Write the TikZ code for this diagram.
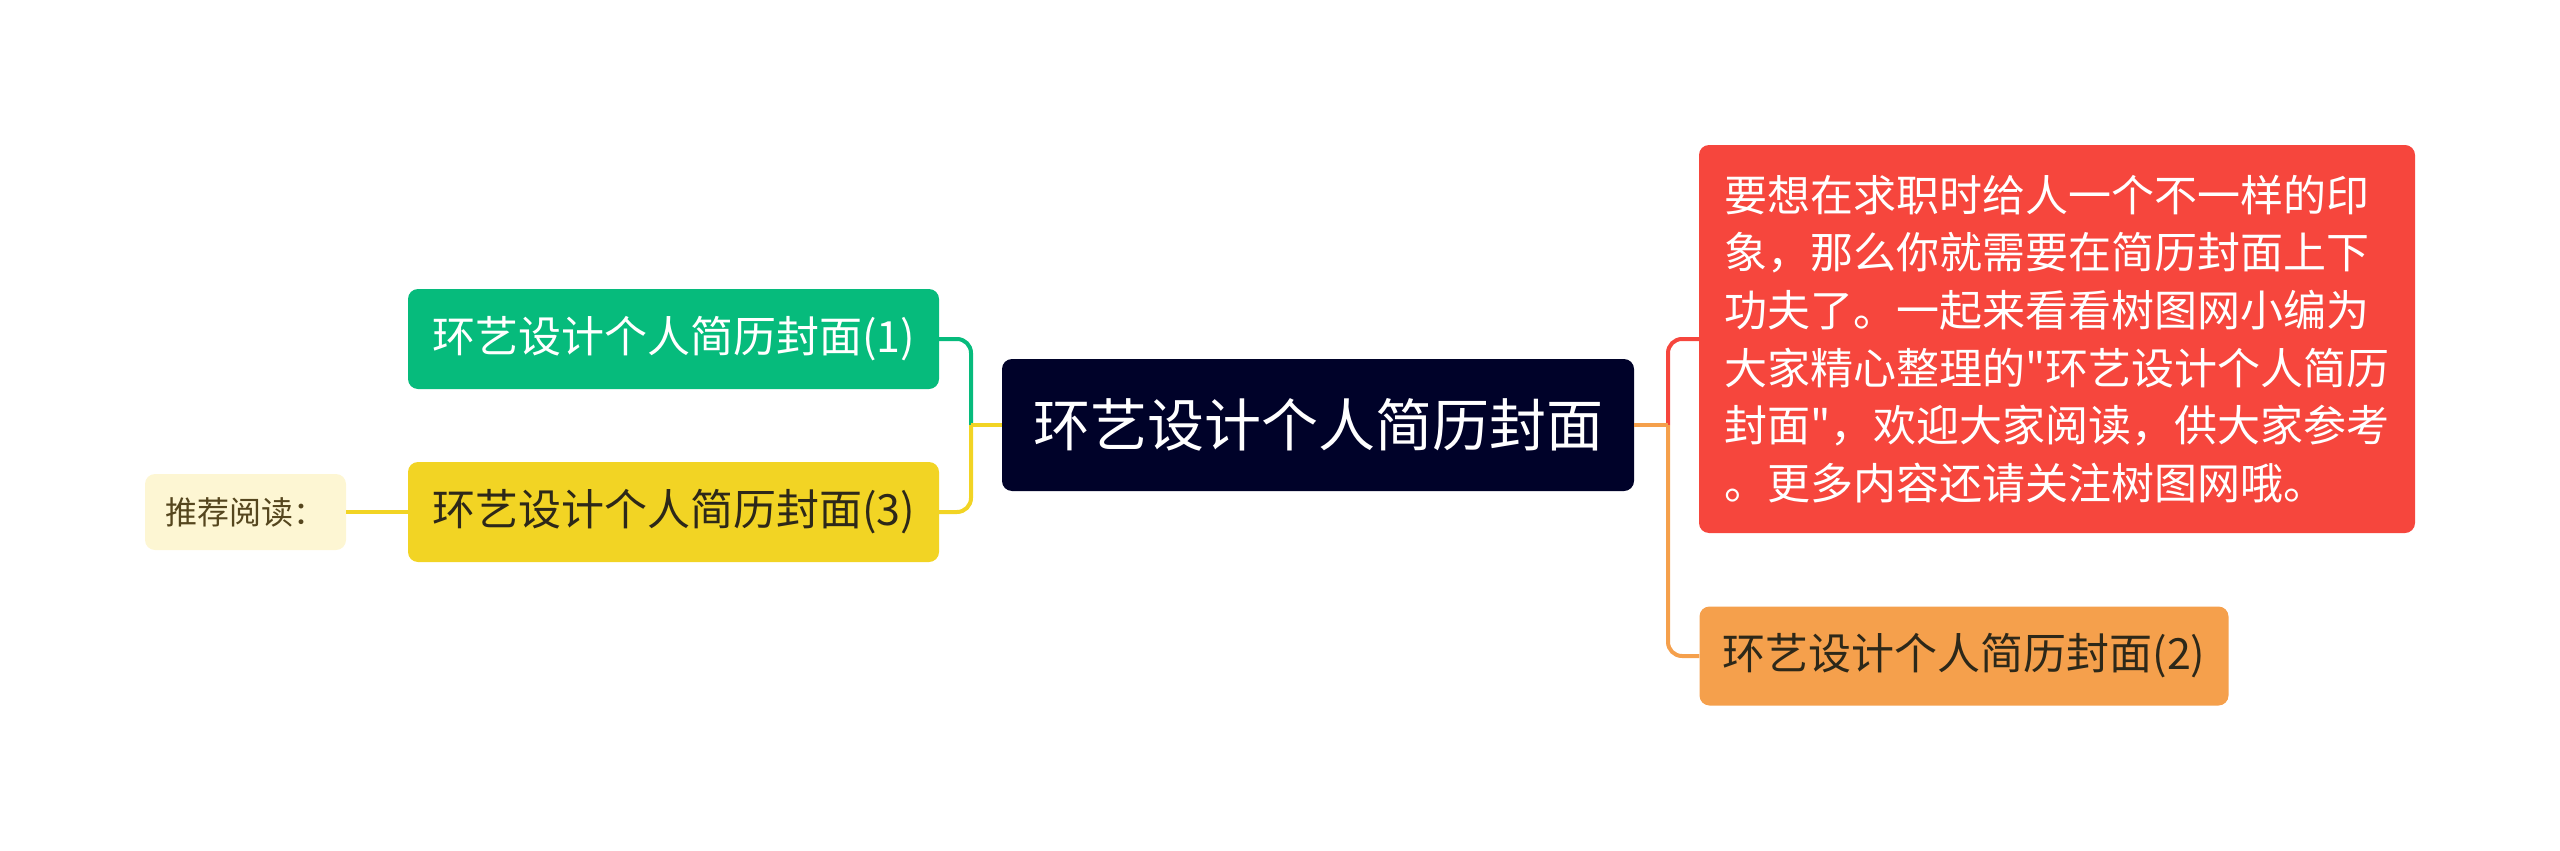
\documentclass[tikz,border=0pt]{standalone}
\usepackage{fontspec}
\setmainfont{Noto Sans CJK SC}[Ligatures=TeXOff]
\definecolor{cnavy}{RGB}{0,2,41}
\definecolor{cred}{RGB}{246,70,61}
\definecolor{corange}{RGB}{245,160,76}
\definecolor{cgreen}{RGB}{6,187,124}
\definecolor{cyellow}{RGB}{242,212,36}
\definecolor{cpale}{RGB}{253,246,211}
\definecolor{cdark}{RGB}{45,40,25}
\definecolor{cpaletext}{RGB}{85,70,30}
\tikzset{
  box/.style={rounded corners=10pt, inner sep=0pt, align=center},
  topic/.style={box, fill=cnavy, text=white, minimum width=632pt, minimum height=132pt, font=\fontsize{57}{68}\selectfont},
  sub/.style={box, minimum width=531pt, minimum height=100pt, font=\fontsize{43}{52}\selectfont},
  conn/.style={line width=4pt, rounded corners=14pt},
}
\begin{document}
\begin{tikzpicture}[x=1pt,y=-1pt]
\useasboundingbox (0,0) rectangle (2560,851);
% nodes
\node[topic] (c) at (1318,425) {环艺设计个人简历封面};
\node[box, fill=cred, text=white, minimum width=716pt, minimum height=388pt, align=left,
      font=\fontsize{43}{57.6}\selectfont] (r) at (2057,339)
  {要想在求职时给人一个不一样的印\\象，那么你就需要在简历封面上下\\功夫了。一起来看看树图网小编为\\大家精心整理的"环艺设计个人简历\\封面"，欢迎大家阅读，供大家参考\\。更多内容还请关注树图网哦。};
\node[sub, fill=corange, text=cdark, minimum width=529pt, minimum height=99pt] (o) at (1964,656) {环艺设计个人简历封面(2)};
\node[sub, fill=cgreen, text=white] (g) at (673.5,339) {环艺设计个人简历封面(1)};
\node[sub, fill=cyellow, text=cdark] (y) at (673.5,512) {环艺设计个人简历封面(3)};
\node[box, fill=cpale, text=cpaletext, minimum width=201pt, minimum height=76pt, font=\fontsize{32}{40}\selectfont] (p) at (245.5,512) {推荐阅读：};
% junctions
\coordinate (jl) at (971,425);
\coordinate (jr) at (1668,425);
% connectors
\draw[conn, cgreen] (jl) |- (g.east);
\draw[conn, cyellow] (jl) |- (y.east);
\draw[line width=4pt, cyellow] (c.west) -- (jl);
\draw[conn, cred] (jr) |- (r.west);
\draw[conn, corange] (jr) |- (o.west);
\draw[line width=4pt, corange] (c.east) -- (jr);
\draw[line width=4pt, cyellow] (p.east) -- (y.west);
\end{tikzpicture}
\end{document}
